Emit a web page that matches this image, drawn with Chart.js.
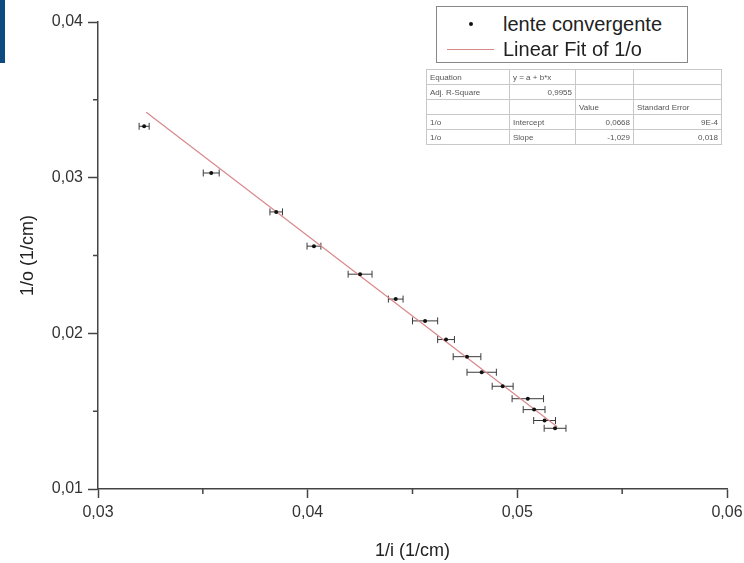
<!DOCTYPE html>
<html>
<head>
<meta charset="utf-8">
<script src="https://cdn.jsdelivr.net/npm/chart.js@4/dist/chart.umd.min.js"></script>
<style>
  body { margin: 0; background: #fff; }
  #wrap { position: relative; width: 744px; height: 563px; font-family: "Liberation Sans", Arial, sans-serif; }
  #blueBar { position: absolute; left: 0; top: 0; width: 5px; height: 63px; background: #0d4a80; }
  #legendBox { position: absolute; left: 436px; top: 6px; width: 250px; height: 55px; border: 1px solid #888; background: #fff; color: #222; font-size: 20px; }
  .legRow { position: absolute; left: 0; height: 24px; line-height: 24px; white-space: nowrap; }
  .legDot { position: absolute; left: 32px; top: 10px; width: 4px; height: 4px; border-radius: 2px; background: #111; }
  .legLine { position: absolute; left: 10px; top: 12px; width: 47px; height: 1px; background: #d9888a; }
  .legText { position: absolute; left: 66px; top: 0; }
  #fitTable { position: absolute; left: 426px; top: 69px; width: 296px; height: 75px; border-collapse: collapse; border: 1px solid #888; background: #fff; font-size: 8px; color: #555; }
  #fitTable td { border: 1px solid #c8c8c8; padding: 0 3px; height: 14px; white-space: nowrap; }
  #fitTable td.r { text-align: right; }
</style>
</head>
<body>
<div id="wrap">
  <canvas id="lensChart" width="744" height="563"></canvas>
  <div id="blueBar"></div>
  <div id="legendBox">
    <div class="legRow" style="top:5px;width:250px;"><span class="legDot"></span><span class="legText">lente convergente</span></div>
    <div class="legRow" style="top:30px;width:250px;"><span class="legLine"></span><span class="legText">Linear Fit of 1/o</span></div>
  </div>
  <table id="fitTable">
    <tr><td style="width:76px">Equation</td><td style="width:59px">y = a + b*x</td><td style="width:51px"></td><td></td></tr>
    <tr><td>Adj. R-Square</td><td class="r">0,9955</td><td></td><td></td></tr>
    <tr><td></td><td></td><td>Value</td><td>Standard Error</td></tr>
    <tr><td>1/o</td><td>Intercept</td><td class="r">0,0668</td><td class="r">9E-4</td></tr>
    <tr><td>1/o</td><td>Slope</td><td class="r">-1,029</td><td class="r">0,018</td></tr>
  </table>
</div>

<script>
// measured points: 1/i, 1/o and the horizontal error (half width)
var invImage = [0.0322, 0.0354, 0.0385, 0.0403, 0.0425, 0.0442, 0.0456, 0.0466, 0.0476, 0.0483, 0.0493, 0.0505, 0.0508, 0.0513, 0.0518];
var invObject = [0.0333, 0.0303, 0.0278, 0.0256, 0.0238, 0.0222, 0.0208, 0.0196, 0.0185, 0.0175, 0.0166, 0.0158, 0.0151, 0.0144, 0.0139];
var invImageErr = [0.00024, 0.00038, 0.0003, 0.00033, 0.00057, 0.00035, 0.0006, 0.0004, 0.00066, 0.0007, 0.0005, 0.00075, 0.00052, 0.00052, 0.00052];

// linear fit line ends
var fitX = [0.0323, 0.0519];
var fitY = [0.0342, 0.0140];

var isMajor = function (v) {
  return Math.abs(v * 100 - Math.round(v * 100)) < 1e-6;
};

var formatTick = function (v) {
  if (!isMajor(v)) {
    return '';
  }
  return v.toFixed(2).replace('.', ',');
};

// horizontal error bars with caps
var errorBarPlugin = {
  id: 'errorBars',
  beforeDatasetsDraw: function (chart) {
    var ctx = chart.ctx;
    var xs = chart.scales.x;
    var ys = chart.scales.y;

    ctx.save();
    ctx.strokeStyle = '#3a3a3a';
    ctx.lineWidth = 1;

    for (var i = 0; i < invImage.length; i++) {
      var x1 = xs.getPixelForValue(invImage[i] - invImageErr[i]);
      var x2 = xs.getPixelForValue(invImage[i] + invImageErr[i]);
      var y = ys.getPixelForValue(invObject[i]);

      ctx.beginPath();
      ctx.moveTo(x1, y);
      ctx.lineTo(x2, y);
      ctx.moveTo(x1, y - 3.5);
      ctx.lineTo(x1, y + 3.5);
      ctx.moveTo(x2, y - 3.5);
      ctx.lineTo(x2, y + 3.5);
      ctx.stroke();
    }
    ctx.restore();
  }
};

// shorter minor ticks between the labelled ones
var minorTickPlugin = {
  id: 'minorTicks',
  afterDraw: function (chart) {
    var ctx = chart.ctx;
    var xs = chart.scales.x;
    var ys = chart.scales.y;
    var area = chart.chartArea;

    ctx.save();
    ctx.strokeStyle = '#444';
    ctx.lineWidth = 1.5;
    ctx.beginPath();

    xs.ticks.forEach(function (t) {
      if (!isMajor(t.value)) {
        var px = xs.getPixelForValue(t.value);
        ctx.moveTo(px, area.bottom);
        ctx.lineTo(px, area.bottom + 5);
      }
    });

    ys.ticks.forEach(function (t) {
      if (!isMajor(t.value)) {
        var py = ys.getPixelForValue(t.value);
        ctx.moveTo(area.left, py);
        ctx.lineTo(area.left - 5, py);
      }
    });

    ctx.stroke();
    ctx.restore();
  }
};

var tickColor = function (c) {
  return isMajor(c.tick.value) ? '#444' : 'rgba(0,0,0,0)';
};

var pointData = invImage.map(function (v, i) { return { x: v, y: invObject[i] }; });
var fitData = fitX.map(function (v, i) { return { x: v, y: fitY[i] }; });

var lensChart = new Chart(document.getElementById('lensChart'), {
  type: 'scatter',
  data: {
    datasets: [
      {
        label: 'lente convergente',
        data: pointData,
        pointRadius: 2,
        pointBackgroundColor: '#111',
        pointBorderWidth: 0,
        showLine: false
      },
      {
        label: 'Linear Fit of 1/o',
        data: fitData,
        showLine: true,
        borderColor: '#d9888a',
        borderWidth: 1.2,
        pointRadius: 0
      }
    ]
  },
  options: {
    responsive: false,
    animation: false,
    layout: {
      padding: { left: 0, right: 17, top: 22, bottom: 0 }
    },
    plugins: {
      legend: { display: false },
      tooltip: { enabled: false }
    },
    scales: {
      x: {
        type: 'linear',
        min: 0.03,
        max: 0.06,
        afterFit: function (scale) {
          scale.height = 74;
          // keep the plot edge fixed, the last label may overhang a bit
          scale.paddingRight = 10;
          scale.paddingLeft = 10;
        },
        ticks: {
          stepSize: 0.005,
          autoSkip: false,
          maxRotation: 0,
          padding: 5,
          color: '#333',
          font: { family: '"Liberation Sans", Arial, sans-serif', size: 16 },
          callback: formatTick
        },
        grid: {
          drawOnChartArea: false,
          tickLength: 9,
          tickWidth: 1.5,
          tickColor: tickColor
        },
        border: { color: '#444', width: 1.5 },
        title: {
          display: true,
          text: '1/i (1/cm)',
          color: '#222',
          font: { family: '"Liberation Sans", Arial, sans-serif', size: 18 },
          padding: { top: 0, bottom: 1 }
        }
      },
      y: {
        type: 'linear',
        min: 0.01,
        max: 0.04,
        afterFit: function (scale) { scale.width = 98; },
        ticks: {
          stepSize: 0.005,
          autoSkip: false,
          padding: 5,
          color: '#333',
          font: { family: '"Liberation Sans", Arial, sans-serif', size: 16 },
          callback: formatTick
        },
        grid: {
          drawOnChartArea: false,
          tickLength: 10,
          tickWidth: 1.5,
          tickColor: tickColor
        },
        border: { color: '#444', width: 1.5 },
        title: {
          display: true,
          text: '1/o (1/cm)',
          color: '#222',
          font: { family: '"Liberation Sans", Arial, sans-serif', size: 18 },
          padding: { top: 17, bottom: 0 }
        }
      }
    }
  },
  plugins: [errorBarPlugin, minorTickPlugin]
});
</script>
</body>
</html>
